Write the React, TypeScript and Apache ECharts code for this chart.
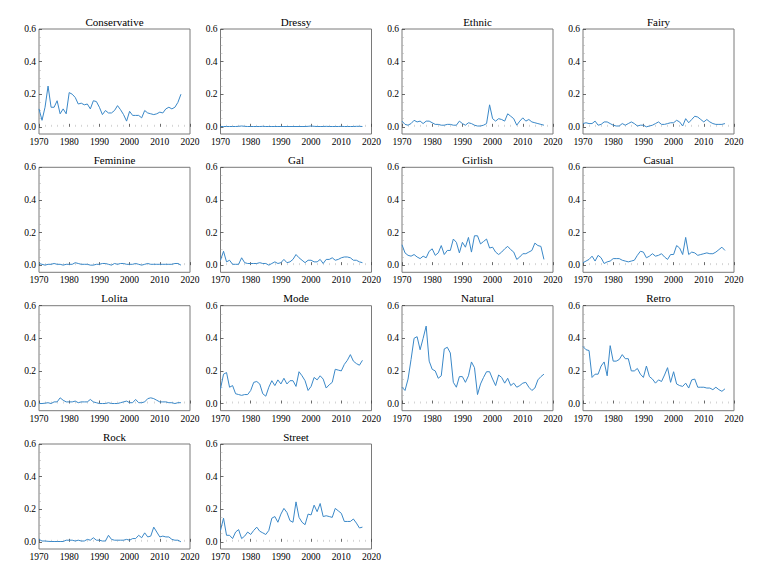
import React, { useEffect, useRef } from "react";
import * as echarts from "echarts";

const years = [
  1970, 1971, 1972, 1973, 1974, 1975, 1976, 1977, 1978, 1979,
  1980, 1981, 1982, 1983, 1984, 1985, 1986, 1987, 1988, 1989,
  1990, 1991, 1992, 1993, 1994, 1995, 1996, 1997, 1998, 1999,
  2000, 2001, 2002, 2003, 2004, 2005, 2006, 2007, 2008, 2009,
  2010, 2011, 2012, 2013, 2014, 2015, 2016, 2017,
];

const conservative = [
  0.11, 0.04, 0.12, 0.25, 0.12, 0.12, 0.16, 0.08, 0.11, 0.08,
  0.21, 0.2, 0.18, 0.14, 0.145, 0.135, 0.14, 0.11, 0.16, 0.155,
  0.12, 0.075, 0.1, 0.085, 0.085, 0.1, 0.13, 0.105, 0.075, 0.035,
  0.095, 0.07, 0.07, 0.07, 0.055, 0.1, 0.085, 0.08, 0.075, 0.08,
  0.09, 0.085, 0.11, 0.12, 0.11, 0.12, 0.15, 0.2,
];
const dressy = [
  0.002, 0.002, 0.002, 0.002, 0.002, 0.002, 0.003, 0.005, 0.003, 0.002,
  0.002, 0.002, 0.002, 0.002, 0.003, 0.002, 0.002, 0.002, 0.002, 0.002,
  0.002, 0.002, 0.002, 0.002, 0.002, 0.002, 0.002, 0.002, 0.002, 0.003,
  0.005, 0.003, 0.002, 0.002, 0.002, 0.003, 0.002, 0.002, 0.002, 0.002,
  0.003, 0.002, 0.002, 0.002, 0.002, 0.003, 0.003, 0.002,
];
const ethnic = [
  0.035, 0.015, 0.01, 0.02, 0.04, 0.03, 0.035, 0.02, 0.035, 0.035,
  0.025, 0.015, 0.015, 0.01, 0.01, 0.015, 0.015, 0.01, 0.01, 0.035,
  0.02, 0.01, 0.025, 0.02, 0.01, 0.005, 0.005, 0.01, 0.02, 0.135,
  0.05, 0.035, 0.05, 0.045, 0.035, 0.08, 0.065, 0.05, 0.01, 0.035,
  0.055, 0.035, 0.045, 0.03, 0.025, 0.02, 0.015, 0.01,
];
const fairy = [
  0.02, 0.025, 0.02, 0.02, 0.035, 0.01, 0.015, 0.03, 0.03, 0.02,
  0.01, 0.005, 0.005, 0.02, 0.01, 0.02, 0.03, 0.02, 0.005, 0.01,
  0.01, 0.0, 0.005, 0.01, 0.02, 0.03, 0.015, 0.015, 0.02, 0.025,
  0.025, 0.04, 0.03, 0.005, 0.05, 0.025, 0.045, 0.065, 0.06, 0.045,
  0.03, 0.045, 0.03, 0.02, 0.015, 0.015, 0.015, 0.02,
];
const feminine = [
  0.01, 0.005, 0.0, 0.005, 0.005, 0.01, 0.005, 0.005, 0.0, 0.005,
  0.005, 0.005, 0.015, 0.01, 0.005, 0.005, 0.005, 0.0, 0.0, 0.005,
  0.005, 0.01, 0.01, 0.005, 0.0, 0.01, 0.005, 0.01, 0.01, 0.005,
  0.005, 0.005, 0.01, 0.005, 0.0, 0.005, 0.01, 0.005, 0.005, 0.005,
  0.005, 0.005, 0.005, 0.005, 0.005, 0.01, 0.01, 0.0,
];
const gal = [
  0.03, 0.085, 0.02, 0.03, 0.005, 0.005, 0.005, 0.045, 0.015, 0.01,
  0.01, 0.01, 0.01, 0.015, 0.01, 0.01, 0.0, 0.01, 0.02, 0.01,
  0.015, 0.035, 0.015, 0.02, 0.035, 0.065, 0.045, 0.03, 0.015, 0.03,
  0.03, 0.02, 0.02, 0.035, 0.01, 0.035, 0.035, 0.045, 0.03, 0.035,
  0.045, 0.05, 0.05, 0.045, 0.03, 0.03, 0.02, 0.015,
];
const girlish = [
  0.125, 0.075, 0.06, 0.055, 0.065, 0.05, 0.04, 0.055, 0.045, 0.085,
  0.1, 0.06, 0.075, 0.12, 0.065, 0.09, 0.09, 0.16, 0.14, 0.075,
  0.14, 0.11, 0.17, 0.08, 0.18, 0.18, 0.13, 0.145, 0.16, 0.105,
  0.11, 0.08, 0.065, 0.08, 0.1, 0.115, 0.095, 0.08, 0.035, 0.05,
  0.07, 0.07, 0.08, 0.09, 0.135, 0.12, 0.115, 0.035,
];
const casual = [
  0.015, 0.025, 0.035, 0.055, 0.025, 0.06, 0.045, 0.01, 0.02, 0.025,
  0.04, 0.04, 0.04, 0.03, 0.025, 0.02, 0.025, 0.03, 0.06, 0.085,
  0.08, 0.045, 0.055, 0.07, 0.055, 0.06, 0.07, 0.05, 0.035, 0.065,
  0.065, 0.12, 0.105, 0.065, 0.17, 0.065, 0.08, 0.075, 0.06, 0.065,
  0.07, 0.075, 0.07, 0.07, 0.08, 0.095, 0.11, 0.09,
];
const lolita = [
  0.0, 0.0, 0.002, 0.005, 0.0, 0.01, 0.01, 0.035, 0.02, 0.01,
  0.01, 0.01, 0.015, 0.005, 0.01, 0.01, 0.01, 0.025, 0.01, 0.005,
  0.0, 0.0, 0.0, 0.005, 0.0, 0.0, 0.0, 0.005, 0.01, 0.015,
  0.005, 0.005, 0.025, 0.005, 0.005, 0.01, 0.03, 0.035, 0.03, 0.02,
  0.01, 0.01, 0.01, 0.005, 0.005, 0.0, 0.005, 0.005,
];
const mode = [
  0.09, 0.18, 0.19, 0.1, 0.11, 0.06, 0.055, 0.05, 0.055, 0.055,
  0.08, 0.13, 0.135, 0.12, 0.06, 0.045, 0.1, 0.14, 0.11, 0.145,
  0.12, 0.155, 0.12, 0.14, 0.14, 0.105, 0.195, 0.17, 0.14, 0.08,
  0.105, 0.16, 0.145, 0.17, 0.15, 0.095, 0.115, 0.13, 0.21, 0.205,
  0.2, 0.24, 0.265, 0.3, 0.26, 0.245, 0.235, 0.265,
];
const natural = [
  0.1, 0.08, 0.15, 0.27, 0.4, 0.41, 0.33, 0.4, 0.475, 0.26,
  0.21, 0.2, 0.155, 0.17, 0.335, 0.345, 0.31, 0.13, 0.1, 0.165,
  0.165, 0.13, 0.17, 0.255, 0.22, 0.055, 0.12, 0.16, 0.195, 0.195,
  0.15, 0.11, 0.175, 0.16, 0.125, 0.155, 0.11, 0.125, 0.1, 0.11,
  0.125, 0.13, 0.1, 0.08, 0.095, 0.145, 0.165, 0.18,
];
const retro = [
  0.35, 0.33, 0.325, 0.16, 0.18, 0.18, 0.23, 0.255, 0.17, 0.355,
  0.26, 0.26, 0.27, 0.3, 0.275, 0.275, 0.2, 0.2, 0.215, 0.18,
  0.16, 0.23, 0.165, 0.15, 0.125, 0.145, 0.135, 0.175, 0.22, 0.13,
  0.195, 0.12, 0.11, 0.105, 0.125, 0.095, 0.145, 0.15, 0.1, 0.1,
  0.1, 0.095, 0.095, 0.085, 0.1, 0.085, 0.075, 0.09,
];
const rock = [
  0.015, 0.005, 0.005, 0.003, 0.002, 0.002, 0.002, 0.002, 0.002, 0.01,
  0.01, 0.01, 0.005, 0.01, 0.005, 0.005, 0.015, 0.01, 0.025, 0.01,
  0.01, 0.005, 0.005, 0.04, 0.015, 0.01, 0.01, 0.01, 0.01, 0.015,
  0.01, 0.02, 0.02, 0.04, 0.025, 0.055, 0.03, 0.035, 0.09, 0.06,
  0.03, 0.035, 0.03, 0.03, 0.015, 0.01, 0.01, 0.0,
];
const street = [
  0.07, 0.145, 0.04, 0.04, 0.02, 0.06, 0.075, 0.02, 0.035, 0.06,
  0.045, 0.07, 0.09, 0.065, 0.055, 0.045, 0.07, 0.145, 0.155, 0.12,
  0.17, 0.205, 0.18, 0.13, 0.12, 0.245, 0.15, 0.12, 0.105, 0.17,
  0.165, 0.225, 0.185, 0.235, 0.155, 0.16, 0.155, 0.15, 0.205, 0.19,
  0.175, 0.125, 0.125, 0.125, 0.14, 0.115, 0.085, 0.09,
];

const titles = [
  "Conservative", "Dressy", "Ethnic", "Fairy",
  "Feminine", "Gal", "Girlish", "Casual",
  "Lolita", "Mode", "Natural", "Retro",
  "Rock", "Street",
];
const seriesValues = [
  conservative, dressy, ethnic, fairy,
  feminine, gal, girlish, casual,
  lolita, mode, natural, retro,
  rock, street,
];

const yTickValues = [0, 0.2, 0.4, 0.6];
const yMinorValues = [0.05, 0.1, 0.15, 0.25, 0.3, 0.35, 0.45, 0.5, 0.55];

const COL_LEFT = [39, 220.5, 402, 583];
const ROW_TOP = [29, 167.3, 305.7, 444];
const W = 151;
const H = 105;
const FONT = "Liberation Serif";
const LINE_COLOR = "#3a88c8";

function buildOption() {
  const grid: any[] = [];
  const xAxis: any[] = [];
  const yAxis: any[] = [];
  const series: any[] = [];
  const title: any[] = [];
  titles.forEach((name, i) => {
    const col = i % 4;
    const row = Math.floor(i / 4);
    const left = COL_LEFT[col];
    const top = ROW_TOP[row];
    grid.push({
      left,
      top,
      width: W,
      height: H,
      show: true,
      borderColor: "#7a7a7a",
      borderWidth: 1,
      backgroundColor: "transparent",
      containLabel: false,
    });
    title.push({
      text: name,
      left: left + W / 2,
      top: top - 13,
      textAlign: "center",
      padding: 0,
      textStyle: {
        fontFamily: FONT,
        fontSize: 11,
        fontWeight: 400,
        color: "#000",
      },
    });
    xAxis.push({
      gridIndex: i,
      type: "value",
      min: 1970,
      max: 2020,
      interval: 10,
      axisLine: { show: false },
      splitLine: { show: false },
      axisTick: { show: true, inside: true, length: 3, lineStyle: { color: "#444", width: 0.8 } },
      minorTick: { show: true, splitNumber: 5, length: 2, lineStyle: { color: "#aaa", width: 0.5 } },
      axisLabel: {
        fontFamily: FONT,
        fontSize: 9.5,
        fontWeight: 400,
        color: "#000",
        margin: 3,
        formatter: (v: number) => String(v),
      },
    });
    yAxis.push({
      gridIndex: i,
      type: "value",
      min: -0.044,
      max: 0.6,
      axisLine: { show: false },
      splitLine: { show: false },
      axisTick: {
        show: true,
        inside: true,
        length: 3,
        customValues: yTickValues,
        lineStyle: { color: "#444", width: 0.8 },
      },
      axisLabel: {
        fontFamily: FONT,
        fontSize: 9.5,
        fontWeight: 400,
        color: "#000",
        margin: 3,
        customValues: yTickValues,
        formatter: (v: number) => v.toFixed(1),
      },
    });
    yAxis.push({
      gridIndex: i,
      type: "value",
      position: "left",
      min: -0.044,
      max: 0.6,
      axisLine: { show: false },
      splitLine: { show: false },
      axisTick: {
        show: true,
        inside: true,
        length: 2,
        customValues: yMinorValues,
        lineStyle: { color: "#aaa", width: 0.5 },
      },
      axisLabel: { show: false },
    });
    series.push({
      type: "line",
      name,
      xAxisIndex: i,
      yAxisIndex: 2 * i,
      data: years.map((y, k) => [y, seriesValues[i][k]]),
      symbol: "none",
      showSymbol: false,
      silent: true,
      lineStyle: { color: LINE_COLOR, width: 1 },
    });
  });
  return {
    animation: false,
    backgroundColor: "#ffffff",
    title,
    grid,
    xAxis,
    yAxis,
    series,
  };
}

export default function App() {
  const ref = useRef<HTMLDivElement>(null);
  useEffect(() => {
    if (!ref.current) return;
    const chart = echarts.init(ref.current, undefined, { renderer: "svg" });
    chart.setOption(buildOption() as any);
    return () => {
      chart.dispose();
    };
  }, []);
  return (
    <div
      ref={ref}
      style={{ position: "fixed", left: 0, top: 0, width: 772, height: 579, background: "#fff" }}
    />
  );
}
